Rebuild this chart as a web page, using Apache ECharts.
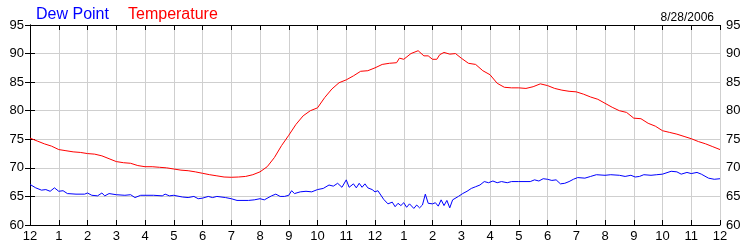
<!DOCTYPE html>
<html>
<head>
<meta charset="utf-8">
<script src="https://cdn.jsdelivr.net/npm/echarts@6/dist/echarts.min.js"></script>
<style>html,body{margin:0;padding:0;background:#fff}#c{width:750px;height:250px}</style>
</head>
<body>
<div id="c"></div>
<script>
var xLabels = ['12','1','2','3','4','5','6','7','8','9','10','11','12','1','2','3','4','5','6','7','8','9','10','11','12'];
var yTicks = [60,65,70,75,80,85,90,95];

var tempHours = [0,0.25,0.5,0.75,1,1.25,1.5,1.75,2,2.25,2.5,2.75,3,3.25,3.5,3.75,4,4.25,4.5,4.75,5,5.25,5.5,5.75,6,6.25,6.5,6.75,7,7.25,7.5,7.75,8,8.25,8.5,8.75,9,9.25,9.5,9.75,10,10.25,10.5,10.75,11,11.25,11.5,11.75,12,12.25,12.5,12.75,12.85,13,13.25,13.5,13.7,13.85,14,14.15,14.25,14.4,14.6,14.8,15,15.25,15.5,15.75,16,16.25,16.5,16.75,17,17.25,17.5,17.75,18,18.25,18.5,18.75,19,19.25,19.5,19.75,20,20.25,20.5,20.75,21,21.25,21.5,21.75,22,22.25,22.5,22.75,23,23.25,23.5,23.75,24];
var tempValues = [75.2,74.7,74.2,73.8,73.2,73.0,72.8,72.7,72.5,72.4,72.1,71.6,71.1,70.9,70.8,70.4,70.2,70.2,70.1,70.0,69.8,69.6,69.5,69.3,69.05,68.8,68.6,68.4,68.35,68.4,68.5,68.8,69.3,70.2,71.8,73.9,75.7,77.6,79.1,80.0,80.5,82.3,83.8,84.9,85.4,86.1,86.9,87.0,87.5,88.1,88.3,88.4,89.2,89.0,90.0,90.5,89.6,89.6,89.0,89.0,89.8,90.2,89.9,90.0,89.2,88.3,88.1,87.0,86.3,84.8,84.1,84.0,84.0,83.9,84.2,84.7,84.4,83.9,83.6,83.4,83.3,82.9,82.4,82.0,81.3,80.6,80.0,79.7,78.7,78.6,77.8,77.3,76.5,76.2,75.9,75.5,75.1,74.6,74.2,73.7,73.2];

var dewHours = [0,0.2,0.4,0.55,0.7,0.85,1,1.15,1.3,1.6,1.9,2,2.15,2.35,2.5,2.6,2.75,3,3.3,3.5,3.65,3.85,4.3,4.6,4.7,4.85,5,5.3,5.5,5.7,5.85,6,6.2,6.35,6.5,6.8,7,7.2,7.6,7.8,8,8.15,8.4,8.55,8.7,8.85,9,9.1,9.2,9.4,9.6,9.8,10,10.2,10.4,10.55,10.7,10.85,11,11.1,11.25,11.35,11.45,11.55,11.65,11.75,11.9,12,12.1,12.3,12.45,12.6,12.7,12.8,12.9,13,13.1,13.2,13.35,13.45,13.55,13.65,13.75,13.85,14,14.1,14.2,14.3,14.4,14.5,14.6,14.7,14.9,15.05,15.2,15.35,15.5,15.65,15.8,15.95,16.1,16.25,16.4,16.6,16.75,17,17.4,17.55,17.7,17.85,18,18.15,18.3,18.45,18.6,18.75,18.9,19.05,19.3,19.5,19.7,20,20.2,20.5,20.7,20.9,21.05,21.2,21.35,21.6,21.8,22,22.3,22.5,22.65,22.85,23,23.2,23.35,23.6,23.8,24];
var dewValues = [67.1,66.5,66.1,66.2,65.9,66.5,65.9,66.0,65.5,65.4,65.4,65.6,65.2,65.1,65.6,65.1,65.5,65.3,65.2,65.3,64.8,65.2,65.2,65.1,65.4,65.1,65.2,64.9,64.8,65.0,64.6,64.7,65.0,64.8,65.0,64.8,64.6,64.3,64.3,64.4,64.6,64.4,65.1,65.4,65.0,65.0,65.2,66.0,65.5,65.8,65.9,65.8,66.2,66.4,67.0,66.8,67.3,66.6,67.9,66.6,67.2,66.5,67.3,66.6,67.2,66.5,66.2,65.8,66.0,64.5,63.7,64.0,63.2,63.8,63.4,63.9,63.1,63.7,62.9,63.5,63.0,63.5,65.4,63.8,63.7,63.9,63.3,64.4,63.4,64.3,63.0,64.4,65.0,65.5,65.9,66.4,66.7,67.0,67.6,67.4,67.7,67.4,67.6,67.4,67.6,67.6,67.6,67.9,67.7,68.1,68.0,67.8,67.9,67.2,67.3,67.6,68.0,68.3,68.2,68.5,68.8,68.7,68.8,68.7,68.5,68.7,68.4,68.5,68.8,68.7,68.8,68.9,69.4,69.3,68.9,69.2,69.0,69.2,68.9,68.2,68.0,68.1];

function zip(a, b) { return a.map(function (v, i) { return [v, b[i]]; }); }

var FONT = 'Arial, "Liberation Sans", sans-serif';
var chart = echarts.init(document.getElementById('c'), null, {renderer: 'canvas'});
var yAxisCommon = {
  type: 'value', min: yTicks[0], max: yTicks[yTicks.length - 1], interval: 5,
  axisLine: {show: true, lineStyle: {color: '#000', width: 1}},
  axisTick: {show: true, inside: true, length: 5, lineStyle: {color: '#000'}},
  axisLabel: {color: '#000', fontSize: 13, fontFamily: FONT, margin: 6}
};
chart.setOption({
  animation: false,
  backgroundColor: '#fff',
  title: [
    {text: 'Dew Point', left: 31, top: 2, textStyle: {color: '#0000ff', fontSize: 16, fontWeight: 'normal', fontFamily: FONT}},
    {text: 'Temperature', left: 123, top: 2, textStyle: {color: '#ff0000', fontSize: 16, fontWeight: 'normal', fontFamily: FONT}},
    {text: '8/28/2006', right: 31, top: 7, textStyle: {color: '#000', fontSize: 12, fontWeight: 'normal', fontFamily: FONT}}
  ],
  grid: {left: 30, right: 30, top: 25, bottom: 25, containLabel: false},
  xAxis: [
    {
      type: 'value', min: 0, max: 24, interval: 1, position: 'bottom',
      axisLine: {show: true, onZero: false, lineStyle: {color: '#000', width: 1}},
      axisTick: {show: true, inside: true, length: 5, lineStyle: {color: '#000'}},
      axisLabel: {color: '#000', fontSize: 13, fontFamily: FONT, margin: 5, showMinLabel: true, showMaxLabel: true,
        formatter: function (v) { return xLabels[Math.round(v)]; }},
      splitLine: {show: true, lineStyle: {color: '#cfcfcf', width: 1}}
    },
    {
      type: 'value', min: 0, max: 24, interval: 1, position: 'top',
      axisLine: {show: true, onZero: false, lineStyle: {color: '#000', width: 1}},
      axisTick: {show: true, inside: true, length: 5, lineStyle: {color: '#000'}},
      axisLabel: {show: false},
      splitLine: {show: false}
    }
  ],
  yAxis: [
    Object.assign({}, yAxisCommon, {position: 'left', splitLine: {show: true, lineStyle: {color: '#cfcfcf', width: 1}}}),
    Object.assign({}, yAxisCommon, {position: 'right', splitLine: {show: false}})
  ],
  series: [
    {name: 'Dew Point', type: 'line', xAxisIndex: 0, yAxisIndex: 0, data: zip(dewHours, dewValues),
      showSymbol: false, lineStyle: {color: '#0000ff', width: 1}, itemStyle: {color: '#0000ff'}},
    {name: 'Temperature', type: 'line', xAxisIndex: 0, yAxisIndex: 0, data: zip(tempHours, tempValues),
      showSymbol: false, lineStyle: {color: '#ff0000', width: 1}, itemStyle: {color: '#ff0000'}}
  ]
});
</script>
</body>
</html>
